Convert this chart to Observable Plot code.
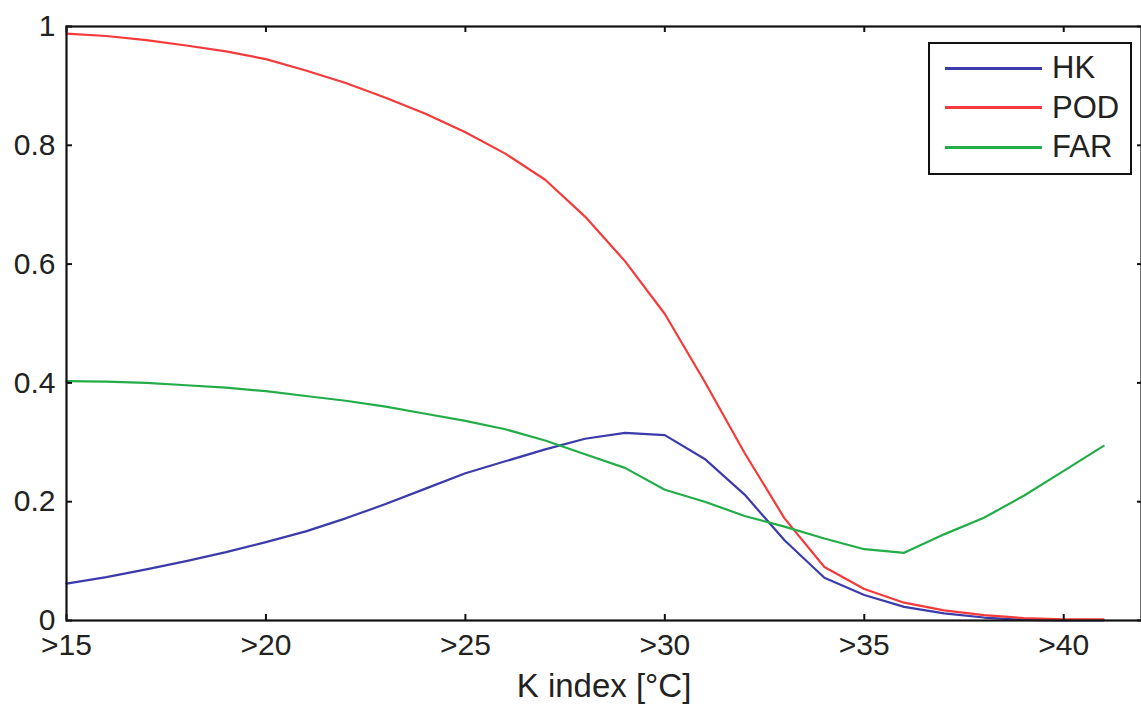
<!DOCTYPE html>
<html>
<head>
<meta charset="utf-8">
<script src="https://cdn.jsdelivr.net/npm/d3@7"></script>
<script src="https://cdn.jsdelivr.net/npm/@observablehq/plot@0.6"></script>
<style>
  html, body { margin: 0; padding: 0; background: #fff; overflow: hidden; }
  #wrap { position: relative; width: 1141px; height: 704px; font-family: "Liberation Sans", Arial, sans-serif; }
  #legend { position: absolute; left: 928px; top: 42px; width: 200px; height: 129px; border: 2px solid #111; background: #fff; }
  .row { position: absolute; left: 0; height: 36px; display: flex; align-items: center; }
  .sw { width: 97px; height: 3px; margin-left: 15px; margin-right: 10px; }
  .lbl { font-size: 31px; color: #222; }
</style>
</head>
<body>
<div id="wrap"></div>
<script>
const kIndex = [15,16,17,18,19,20,21,22,23,24,25,26,27,28,29,30,31,32,33,34,35,36,37,38,39,40,41];
const hk  = [.062,.073,.086,.100,.115,.132,.150,.172,.196,.222,.248,.268,.288,.306,.316,.312,.272,.212,.135,.072,.043,.023,.012,.005,.001,.000,.000];
const pod = [.988,.984,.977,.968,.958,.945,.926,.905,.880,.853,.822,.786,.742,.680,.605,.516,.402,.282,.172,.090,.053,.030,.017,.009,.004,.002,.002];
const far = [.403,.402,.400,.396,.392,.386,.378,.370,.360,.348,.336,.322,.303,.280,.257,.220,.200,.176,.158,.138,.120,.114,.145,.173,.210,.252,.294];
const seriesNames = ["HK","POD","FAR"];
const seriesColors = ["#3b3bab","#f43a3a","#22ad48"];
const xTicks = [15,20,25,30,35,40];
const yTicks = [0,0.2,0.4,0.6,0.8,1];

const rows = [];
[hk, pod, far].forEach((vals, s) => vals.forEach((v, i) => rows.push({k: kIndex[i], v, s: seriesNames[s]})));

const tickLenX = 6/593;   // in y-units
const tickLenY = 6/39.9;  // in x-units

const chart = Plot.plot({
  width: 1141,
  height: 704,
  marginTop: 26,
  marginBottom: 84,
  marginLeft: 66,
  marginRight: 0,
  style: {fontFamily: "Liberation Sans, Arial, sans-serif", color: "#222", background: "#fff"},
  x: {domain: [15, 42], range: [66, 1143]},
  y: {domain: [0, 1]},
  color: {domain: seriesNames, range: seriesColors},
  marks: [
    Plot.line(rows, {x: "k", y: "v", z: "s", stroke: "s", strokeWidth: 2.2}),
    Plot.ruleX(xTicks, {x: d => d, y1: 0, y2: tickLenX, stroke: "#111", strokeWidth: 2}),
    Plot.ruleX(xTicks, {x: d => d, y1: 1 - tickLenX, y2: 1, stroke: "#111", strokeWidth: 2}),
    Plot.ruleY(yTicks, {y: d => d, x1: 15, x2: 15 + tickLenY, stroke: "#111", strokeWidth: 2}),
    Plot.ruleY(yTicks, {y: d => d, x1: 42 - tickLenY, x2: 42, stroke: "#111", strokeWidth: 2}),
    Plot.frame({stroke: "#111", strokeWidth: 2.2}),
    Plot.axisX(xTicks, {tickSize: 0, tickPadding: 13, fontSize: 30, tickFormat: d => ">" + d,
      label: "K index [°C]", labelAnchor: "center", labelOffset: 76, labelArrow: "none"}),
    Plot.axisY(yTicks, {tickSize: 0, tickPadding: 11, fontSize: 30, tickFormat: d => String(d), label: null})
  ]
});
chart.style.position = "absolute";
chart.style.left = "0";
chart.style.top = "0";
const wrap = document.getElementById("wrap");
wrap.appendChild(chart);

// enlarge the axis label slightly
chart.querySelectorAll("text").forEach(t => {
  if (t.textContent === "K index [°C]") { t.setAttribute("font-size", 33); t.style.fontSize = "33px"; }
});

const legend = document.createElement("div");
legend.id = "legend";
seriesNames.forEach((n, i) => {
  const r = document.createElement("div");
  r.className = "row";
  r.style.top = (6 + i * 39.5) + "px";
  const sw = document.createElement("div");
  sw.className = "sw";
  sw.style.background = seriesColors[i];
  const l = document.createElement("span");
  l.className = "lbl";
  l.textContent = n;
  r.appendChild(sw); r.appendChild(l);
  legend.appendChild(r);
});
wrap.appendChild(legend);
</script>
</body>
</html>
